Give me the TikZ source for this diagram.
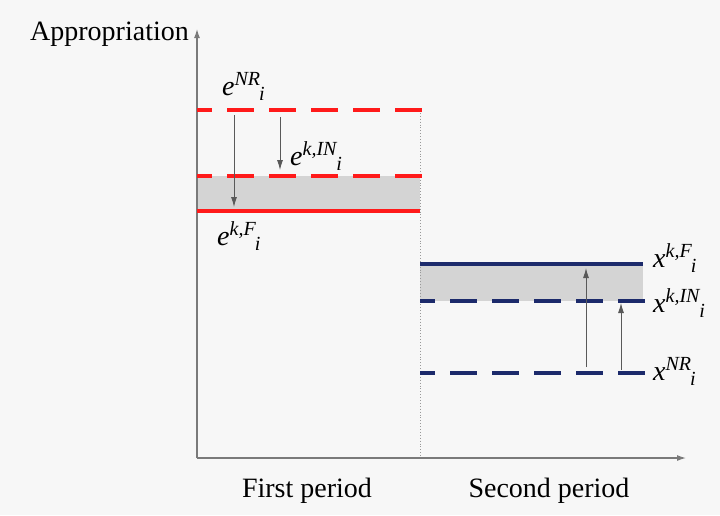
\documentclass[tikz,border=0pt]{standalone}
\usepackage{amsmath}
\usepackage{fontspec}
\setmainfont{Liberation Serif}
\usepackage{tikz}
\usetikzlibrary{arrows.meta}
\usepackage{xcolor}
\definecolor{bgcol}{HTML}{F7F7F7}
\definecolor{redline}{HTML}{FF1A1A}
\definecolor{blueline}{HTML}{1C2A6B}
\definecolor{axiscol}{HTML}{7A7A7A}
\newcommand{\symlbl}[3]{\textit{#1}\raisebox{10pt}{\fontsize{20}{22}\selectfont\textit{#2}}\kern-1pt\raisebox{-5pt}{\fontsize{20}{22}\selectfont\textit{#3}}}
\tikzset{
  axisline/.style={draw=axiscol, line width=1.2pt, -{Latex[length=9pt,width=6pt]}},
  divider/.style={draw=black!40, dotted, line width=0.9pt},
  change/.style={draw=black!65, line width=0.9pt, -{Latex[length=10pt,width=6pt]}},
  redsolid/.style={draw=redline, line width=3.4pt},
  reddash/.style={redsolid, dash pattern=on 27pt off 15pt, dash phase=12pt},
  bluesolid/.style={draw=blueline, line width=3.2pt},
  bluedash/.style={bluesolid, dash pattern=on 27pt off 15pt, dash phase=12pt},
  band/.style={fill=black!17},
  lbl/.style={font=\fontsize{28}{32}\selectfont, inner sep=0pt},
  sym/.style={font=\fontsize{28}{32}\selectfont, inner sep=0pt, anchor=base west}
}

\begin{document}
\begin{tikzpicture}[x=1pt, y=-1pt]
\fill[bgcol] (0,0) rectangle (720,515);
\useasboundingbox (0,0) rectangle (720,515);
% axes
\coordinate (O) at (197,458);
\coordinate (ytop) at (197,29);
\coordinate (xend) at (686,458);
\coordinate (mid) at (420,458);
\coordinate (midtop) at (420,110);
\node[lbl, anchor=base west] (ylabel) at (30,40) {Appropriation};
\node[lbl, anchor=base] (first) at (307,497) {First period};
\node[lbl, anchor=base] (second) at (549,497) {Second period};
% shaded bands
\fill[band] (197,176) rectangle (420,211);
\fill[band] (420,264) rectangle (643,301);
\draw[divider] (midtop) -- (mid);
\draw[axisline] (O) -- (ytop);
\draw[axisline] (O) -- (xend);
% first period
\draw[reddash] (197,110) -- (422,110);
\draw[reddash] (197,176) -- (422,176);
\draw[redsolid] (197,211) -- (420,211);
\node[sym] (eNR) at (222,95) {\symlbl{e}{NR}{i}};
\node[sym] (eIN) at (290,165) {\symlbl{e}{k,IN}{i}};
\node[sym] (eF) at (217,245) {\symlbl{e}{k,F}{i}};
\coordinate (a1s) at (234,115);
\coordinate (a1e) at (234,207);
\coordinate (a2s) at (280,117);
\coordinate (a2e) at (280,170);
\draw[change] (a1s) -- (a1e);
\draw[change] (a2s) -- (a2e);
% second period
\draw[bluesolid] (420,264) -- (643,264);
\draw[bluedash] (420,301) -- (647,301);
\draw[bluedash] (420,373) -- (647,373);
\node[sym] (xF) at (653,267) {\symlbl{x}{k,F}{i}};
\node[sym] (xIN) at (653,312) {\symlbl{x}{k,IN}{i}};
\node[sym] (xNR) at (653,380) {\symlbl{x}{NR}{i}};
\coordinate (a3s) at (586,367);
\coordinate (a3e) at (586,268);
\coordinate (a4s) at (621,370);
\coordinate (a4e) at (621,303);
\draw[change] (a3s) -- (a3e);
\draw[change] (a4s) -- (a4e);
\end{tikzpicture}
\end{document}
